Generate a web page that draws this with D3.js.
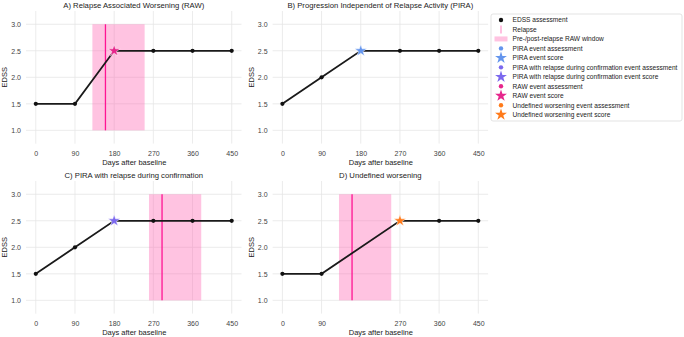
<!DOCTYPE html>
<html lang="en">
<head>
<meta charset="utf-8">
<script src="https://cdn.jsdelivr.net/npm/d3@7/dist/d3.min.js"></script>
<style>
body{margin:0;background:#fff;}
svg{display:block;font-family:"Liberation Sans",Arial,sans-serif;}
</style>
</head>
<body>
<div id="chart"></div>
<script>
// ---- data ----
const panelTitles=["A) Relapse Associated Worsening (RAW)","B) Progression Independent of Relapse Activity (PIRA)","C) PIRA with relapse during confirmation","D) Undefined worsening"]
const assessDays=[[0,90,180,270,360,450],[0,90,180,270,360,450],[0,90,180,270,360,450],[0,90,270,360,450]]
const edssValues=[[1.5,1.5,2.5,2.5,2.5,2.5],[1.5,2.0,2.5,2.5,2.5,2.5],[1.5,2.0,2.5,2.5,2.5,2.5],[1.5,1.5,2.5,2.5,2.5]]
const relapseDays=[160,null,290,160]
const rawWindows=[[130,250],null,[260,380],[130,250]]
const eventDays=[180,180,180,270]
const eventKinds=["RAW","PIRA","PIRArel","undef"]
const yTicks=[1.0,1.5,2.0,2.5,3.0]
const legendLabels=["EDSS assessment","Relapse","Pre-/post-relapse RAW window","PIRA event assessment","PIRA event score","PIRA with relapse during confirmation event assessment","PIRA with relapse during confirmation event score","RAW event assessment","RAW event score","Undefined worsening event assessment","Undefined worsening event score"]
const legendKinds=["dot","line","patch","dot","star","dot","star","dot","star","dot","star"]

const eventColor={PIRA:"#6495ed",PIRArel:"#7b68ee",RAW:"#e6268c",undef:"#ff7a1a"}
const legendColors=["#111",null,null,eventColor.PIRA,eventColor.PIRA,eventColor.PIRArel,eventColor.PIRArel,eventColor.RAW,eventColor.RAW,eventColor.undef,eventColor.undef]

const W=684,H=337
const svg=d3.select("#chart").append("svg").attr("width",W).attr("height",H)

const plotW=215.5,plotH=132.6
const origins=[[26,11],[272.6,11],[26,181],[272.6,181]]
const star=d3.symbol().type(d3.symbolStar).size(44)

panelTitles.forEach((title,i)=>{
  const [ox,oy]=origins[i]
  const x=d3.scaleLinear().domain([-22.5,472.5]).range([ox,ox+plotW])
  const y=d3.scaleLinear().domain([0.75,3.25]).range([oy+plotH,oy])
  const g=svg.append("g")

  // grid
  g.selectAll(".vg").data(assessDays[i]).enter().append("line")
    .attr("x1",d=>x(d)).attr("x2",d=>x(d)).attr("y1",oy).attr("y2",oy+plotH)
    .style("stroke","#e6e6e6").style("stroke-width",0.8)
  g.selectAll(".hg").data(yTicks).enter().append("line")
    .attr("x1",ox).attr("x2",ox+plotW).attr("y1",d=>y(d)).attr("y2",d=>y(d))
    .style("stroke","#e6e6e6").style("stroke-width",0.8)

  // raw window + relapse
  if(rawWindows[i]){
    g.append("rect").attr("x",x(rawWindows[i][0])).attr("width",x(rawWindows[i][1])-x(rawWindows[i][0]))
      .attr("y",y(3.0)).attr("height",y(1.0)-y(3.0))
      .style("fill","#ff69b4").style("opacity",0.4)
  }
  if(relapseDays[i]!=null){
    g.append("line").attr("x1",x(relapseDays[i])).attr("x2",x(relapseDays[i]))
      .attr("y1",y(3.0)).attr("y2",y(1.0)).style("stroke","#ff1493").style("stroke-width",1.3)
  }

  // EDSS line
  const pts=assessDays[i].map((d,j)=>[d,edssValues[i][j]])
  const line=d3.line().x(d=>x(d[0])).y(d=>y(d[1]))
  g.append("path").attr("d",line(pts)).style("fill","none").style("stroke","#1a1a1a").style("stroke-width",1.8)
  g.selectAll(".pt").data(pts).enter().append("circle")
    .attr("cx",d=>x(d[0])).attr("cy",d=>y(d[1])).attr("r",2.1).style("fill","#111")

  // event star
  const ei=assessDays[i].indexOf(eventDays[i])
  g.append("path").attr("d",star).attr("transform","translate("+x(eventDays[i])+","+y(edssValues[i][ei])+")")
    .style("fill",eventColor[eventKinds[i]]).style("stroke","#fff").style("stroke-width",0.5)

  // ticks
  const ax=d3.axisBottom(x).tickValues(assessDays[i]).tickSize(0).tickPadding(0).tickFormat(d3.format("d"))
  const axg=g.append("g").attr("transform","translate(0,"+(oy+plotH+12)+")").call(ax)
  axg.select(".domain").remove()
  axg.selectAll("text").attr("dy",0).style("font-size","7px").style("fill","#444").style("font-family","Liberation Sans, Arial, sans-serif")
  const ay=d3.axisLeft(y).tickValues(yTicks).tickSize(0).tickPadding(0).tickFormat(d3.format(".1f"))
  const ayg=g.append("g").attr("transform","translate("+(ox-5)+",0)").call(ay)
  ayg.select(".domain").remove()
  ayg.selectAll("text").attr("dy","0.35em").style("font-size","7px").style("fill","#444").style("font-family","Liberation Sans, Arial, sans-serif")

  g.append("text").attr("x",ox+plotW/2).attr("y",oy-3).attr("text-anchor","middle")
    .style("font-size","7.7px").style("fill","#222").text(title)
  g.append("text").attr("x",ox+plotW/2+0.5).attr("y",oy+plotH+21.5).attr("text-anchor","middle")
    .style("font-size","7.5px").style("fill","#222").text("Days after baseline")
  g.append("text").attr("transform","translate("+(ox-19)+","+(oy+plotH/2)+") rotate(-90)").attr("text-anchor","middle")
    .style("font-size","7.5px").style("fill","#222").text("EDSS")
})

// legend
const lg=svg.append("g")
lg.append("rect").attr("x",491).attr("y",14).attr("width",191).attr("height",107).attr("rx",2)
  .style("fill","#fff").style("stroke","#dcdcdc").style("stroke-width",0.8)
const ly=d3.scaleLinear().domain([0,legendLabels.length-1]).range([20,114.7])
legendLabels.forEach((lab,k)=>{
  const yy=ly(k),kind=legendKinds[k]
  if(kind=="dot") lg.append("circle").attr("cx",501).attr("cy",yy).attr("r",2.2).style("fill",legendColors[k])
  else if(kind=="star") lg.append("path").attr("d",star).attr("transform","translate(501,"+yy+")").style("fill",legendColors[k])
  else if(kind=="line") lg.append("line").attr("x1",501).attr("x2",501).attr("y1",yy-4).attr("y2",yy+4).style("stroke","#ff9ed0").style("stroke-width",1.3)
  else lg.append("rect").attr("x",494.5).attr("y",yy-2.5).attr("width",13).attr("height",5).style("fill","#ff69b4").style("opacity",0.4)
  lg.append("text").attr("x",512.5).attr("y",yy).attr("dy","0.35em").style("font-size","6.6px").style("fill","#222").text(lab)
})
</script>
</body>
</html>
